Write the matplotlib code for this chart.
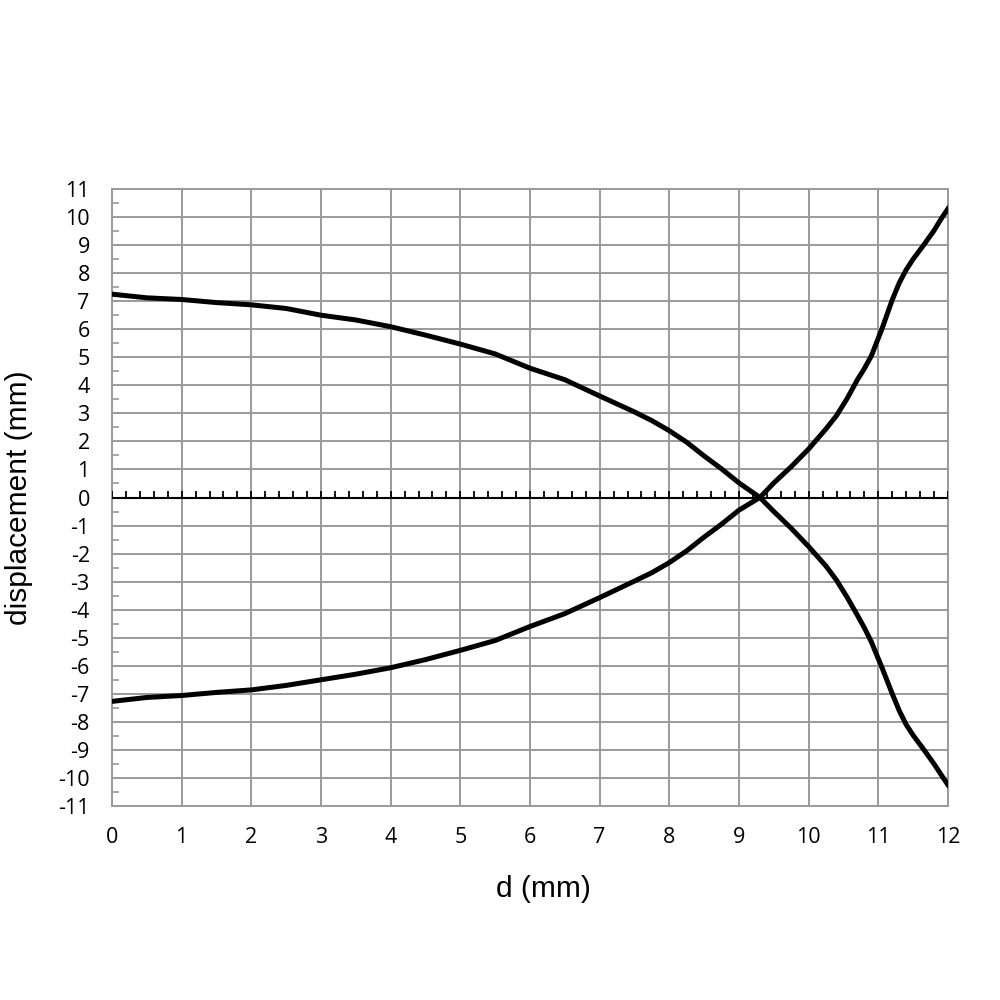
import numpy as np
import matplotlib
matplotlib.use("Agg")
import matplotlib.pyplot as plt
from matplotlib.ticker import MultipleLocator

plt.rcParams['axes.unicode_minus'] = False

# points, shared x for both curves
d = [0, 0.5, 1, 1.5, 2, 2.5, 3, 3.5, 4, 4.5, 5, 5.5, 6, 6.5, 7, 7.5, 7.75, 8,
     8.25, 8.5, 8.75, 9, 9.3, 9.5, 9.75, 10, 10.25, 10.4, 10.55, 10.7, 10.8,
     10.9, 11.05, 11.2, 11.3, 11.4, 11.5, 11.65, 11.8, 11.9, 12]
upper = [7.25, 7.12, 7.06, 6.95, 6.87, 6.74, 6.5, 6.33, 6.09, 5.79, 5.47, 5.12,
         4.61, 4.2, 3.62, 3.05, 2.74, 2.38, 1.97, 1.48, 1.02, 0.52, 0.0, -0.5,
         -1.1, -1.75, -2.45, -2.95, -3.55, -4.2, -4.65, -5.15, -6.05, -7.0,
         -7.6, -8.1, -8.48, -8.98, -9.5, -9.88, -10.25]
lower = [-7.27, -7.13, -7.06, -6.95, -6.86, -6.7, -6.5, -6.3, -6.07, -5.78, -5.45,
         -5.1, -4.6, -4.14, -3.57, -2.98, -2.68, -2.32, -1.9, -1.41, -0.95, -0.45,
         0.0, 0.52, 1.1, 1.73, 2.45, 2.92, 3.52, 4.2, 4.6, 5.05, 6.0, 7.05, 7.65,
         8.12, 8.5, 9.0, 9.52, 9.93, 10.3]

x_ticks = list(range(0, 13))
y_ticks = list(range(-11, 12))

grid_col = '#9a9a9a'

fig = plt.figure(figsize=(10, 10), dpi=100)
ax = fig.add_axes([0.112, 0.194, 0.836, 0.617])

ax.set_xlim(0, 12)
ax.set_ylim(-11, 11)
ax.set_xticks(x_ticks)
ax.set_yticks(y_ticks)
ax.set_xticklabels([str(v) for v in x_ticks], family='Open Sans', fontsize=15.5)
ax.set_yticklabels([str(v) for v in y_ticks], family='Open Sans', fontsize=15.5)
ax.yaxis.set_minor_locator(MultipleLocator(0.5))

ax.grid(True, which='major', color=grid_col, linewidth=1.4)
ax.set_axisbelow(True)
for s in ax.spines.values():
    s.set_color(grid_col)
    s.set_linewidth(1.4)

ax.tick_params(which='major', length=0)
ax.tick_params(axis='y', which='major', pad=16)
ax.tick_params(axis='x', which='major', pad=15)
ax.tick_params(axis='y', which='minor', direction='in', length=5,
               width=1.2, color=grid_col)
ax.tick_params(axis='x', which='minor', length=0)

# zero line with small upward ticks every 0.2
ax.axhline(0, color='black', linewidth=1.5, zorder=3)
zt = np.arange(0, 12.001, 0.2)
ax.vlines(zt, 0, 0.22, colors='black', linewidth=1.3, zorder=3)

ax.plot(d, upper, color='black', linewidth=3.6, solid_joinstyle='round', zorder=4)
ax.plot(d, lower, color='black', linewidth=3.6, solid_joinstyle='round', zorder=4)

ax.set_xlabel('d (mm)', family='Liberation Sans', fontsize=21.5)
ax.set_ylabel('displacement (mm)', family='Liberation Sans', fontsize=21.5)
ax.xaxis.set_label_coords(0.516, -0.112)
ax.yaxis.set_label_coords(-0.094, 0.5)

fig.savefig('out.png', dpi=100)
